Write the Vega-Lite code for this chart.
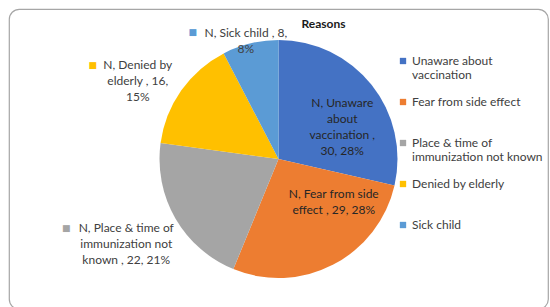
{
  "$schema": "https://vega.github.io/schema/vega-lite/v6.json",
  "width": 539,
  "height": 300,
  "autosize": "none",
  "padding": {"left": 9, "top": 9, "right": 2, "bottom": 0},
  "background": "white",
  "view": {"stroke": "#a6a6a6", "strokeWidth": 1.2, "cornerRadius": 10},
  "config": {
    "view": {"stroke": "#a6a6a6", "strokeWidth": 1.2, "cornerRadius": 10},
    "font": "Lato"
  },
  "title": {
    "text": "Reasons",
    "fontSize": 12,
    "fontWeight": "bold",
    "font": "Lato",
    "color": "#1a1a1a",
    "anchor": "middle",
    "frame": "group",
    "baseline": "middle",
    "dx": 45,
    "offset": -27
  },
  "data": {
    "values": [
      {"reason": "Unaware about vaccination", "value": 30, "label": "N, Unaware\nabout\nvaccination ,\n30, 28%"},
      {"reason": "Fear from side effect", "value": 29, "label": "N, Fear from side\neffect , 29, 28%"},
      {"reason": "Place & time of immunization not known", "value": 22, "label": "N, Place & time of\nimmunization not\nknown , 22, 21%"},
      {"reason": "Denied by elderly", "value": 16, "label": "N, Denied by\nelderly , 16,\n15%"},
      {"reason": "Sick child", "value": 8, "label": "N, Sick child , 8,\n8%"}
    ]
  },
  "encoding": {
    "theta": {"field": "value", "type": "quantitative", "stack": true},
    "order": {"field": "value", "type": "quantitative", "sort": "descending"},
    "detail": {"field": "reason", "type": "nominal"}
  },
  "layer": [
    {
      "mark": {"type": "rule", "opacity": 0},
      "encoding": {
        "y": {"datum": 0, "type": "quantitative", "axis": null}
      }
    },
    {
      "mark": {"type": "arc", "outerRadius": 119},
      "encoding": {
        "color": {
          "field": "reason",
          "type": "nominal",
          "scale": {
            "domain": ["Unaware about vaccination", "Fear from side effect", "Place & time of immunization not known", "Denied by elderly", "Sick child"],
            "range": ["#4472C4", "#ED7D31", "#A5A5A5", "#FFC000", "#5B9BD5"]
          },
          "legend": {
            "title": null,
            "orient": "none",
            "legendX": 388,
            "legendY": 46,
            "symbolType": "square",
            "symbolSize": 40,
            "symbolStrokeWidth": 0,
            "labelFontSize": 12,
            "labelFont": "Lato",
            "labelColor": "#404040",
            "labelLimit": 170,
            "labelOffset": 3,
            "rowPadding": 15,
            "gridAlign": "all",
            "labelExpr": "datum.label == 'Unaware about vaccination' ? ['Unaware about', 'vaccination'] : datum.label == 'Place & time of immunization not known' ? ['Place & time of', 'immunization not known'] : datum.label"
          }
        }
      }
    },
    {
      "mark": {"type": "text", "radius": 70, "dx": 9, "dy": -12, "lineBreak": "\n", "lineHeight": 16, "fontSize": 12, "color": "#262626", "align": "center", "baseline": "middle"},
      "encoding": {
        "text": {"field": "label", "type": "nominal"},
        "opacity": {"condition": {"test": "datum.reason === 'Unaware about vaccination'", "value": 1}, "value": 0}
      }
    },
    {
      "mark": {"type": "text", "radius": 70, "dx": 23, "dy": -27, "lineBreak": "\n", "lineHeight": 16, "fontSize": 12, "color": "#262626", "align": "center", "baseline": "middle"},
      "encoding": {
        "text": {"field": "label", "type": "nominal"},
        "opacity": {"condition": {"test": "datum.reason === 'Fear from side effect'", "value": 1}, "value": 0}
      }
    },
    {
      "mark": {"type": "text", "radius": 125, "dx": -44, "dy": 6, "lineBreak": "\n", "lineHeight": 16, "fontSize": 12, "color": "#404040", "align": "center", "baseline": "middle"},
      "encoding": {
        "text": {"field": "label", "type": "nominal"},
        "opacity": {"condition": {"test": "datum.reason === 'Place & time of immunization not known'", "value": 1}, "value": 0}
      }
    },
    {
      "mark": {"type": "text", "radius": 100, "dx": -59, "dy": -36, "lineBreak": "\n", "lineHeight": 16, "fontSize": 12, "color": "#404040", "align": "center", "baseline": "middle"},
      "encoding": {
        "text": {"field": "label", "type": "nominal"},
        "opacity": {"condition": {"test": "datum.reason === 'Denied by elderly'", "value": 1}, "value": 0}
      }
    },
    {
      "mark": {"type": "text", "radius": 125, "dx": -3, "dy": -5, "lineBreak": "\n", "lineHeight": 16, "fontSize": 12, "color": "#404040", "align": "center", "baseline": "middle"},
      "encoding": {
        "text": {"field": "label", "type": "nominal"},
        "opacity": {"condition": {"test": "datum.reason === 'Sick child'", "value": 1}, "value": 0}
      }
    },
    {
      "mark": {"type": "text", "radius": 125, "dx": -104, "dy": 6, "fontSize": 9, "font": "DejaVu Sans", "align": "center", "baseline": "middle", "text": "■"},
      "encoding": {
        "color": {"field": "reason", "type": "nominal"},
        "opacity": {"condition": {"test": "datum.reason === 'Place & time of immunization not known'", "value": 1}, "value": 0}
      }
    },
    {
      "mark": {"type": "text", "radius": 100, "dx": -104, "dy": -36, "fontSize": 9, "font": "DejaVu Sans", "align": "center", "baseline": "middle", "text": "■"},
      "encoding": {
        "color": {"field": "reason", "type": "nominal"},
        "opacity": {"condition": {"test": "datum.reason === 'Denied by elderly'", "value": 1}, "value": 0}
      }
    },
    {
      "mark": {"type": "text", "radius": 125, "dx": -56, "dy": -6, "fontSize": 9, "font": "DejaVu Sans", "align": "center", "baseline": "middle", "text": "■"},
      "encoding": {
        "color": {"field": "reason", "type": "nominal"},
        "opacity": {"condition": {"test": "datum.reason === 'Sick child'", "value": 1}, "value": 0}
      }
    }
  ]
}
